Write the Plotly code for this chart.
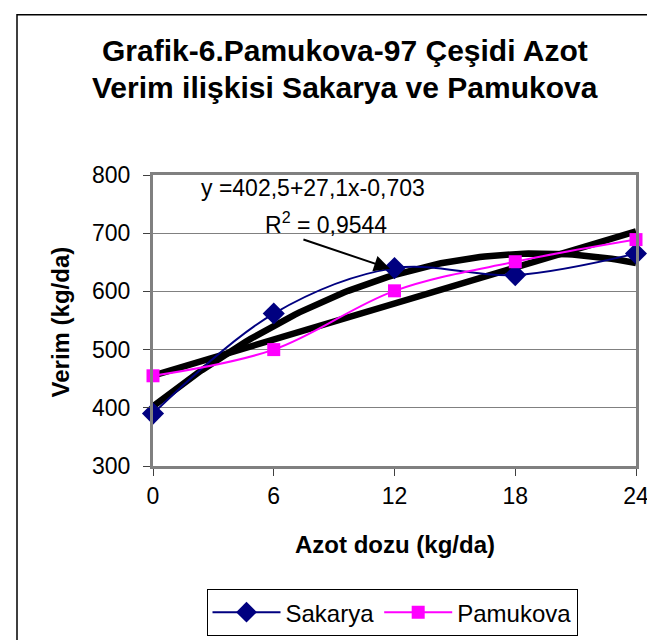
import numpy as np
import plotly.graph_objects as go

# ── Data ─────────────────────────────────────────────────────────────────────
azot_dozu = [0, 6, 12, 18, 24]
sakarya = [390, 562, 640, 628, 665]
pamukova = [455, 500, 601, 651, 689]

W, H = 655, 640
L, R, T, B = 145, 27, 167, 175
PW, PH = W - L - R, H - T - B
FONT = "Liberation Sans, Arial, sans-serif"


def px_x(px):
    return (px - L) / PW


def px_y(py):
    return (H - B - py) / PH


# trend lines (Excel style): 2nd order poly for Sakarya, linear for Pamukova
xs = np.linspace(azot_dozu[0], azot_dozu[-1], 100)
poly_sak = np.polyval(np.polyfit(azot_dozu, sakarya, 2), xs)
lin_pam = np.polyval(np.polyfit(azot_dozu, pamukova, 1), xs)

fig = go.Figure()

for trend in (lin_pam, poly_sak):
    fig.add_trace(go.Scatter(
        x=xs, y=trend, mode="lines", showlegend=False, hoverinfo="skip",
        line=dict(color="black", width=6.5), cliponaxis=False,
    ))

fig.add_trace(go.Scatter(
    x=azot_dozu, y=sakarya, name="Sakarya", mode="lines+markers",
    line=dict(color="#000080", width=2, shape="spline", smoothing=1),
    marker=dict(symbol="diamond", size=17, color="#000080"),
    cliponaxis=False,
))
fig.add_trace(go.Scatter(
    x=azot_dozu, y=pamukova, name="Pamukova", mode="lines+markers",
    line=dict(color="#FF00FF", width=2, shape="spline", smoothing=1),
    marker=dict(symbol="square", size=13, color="#FF00FF"),
    cliponaxis=False,
))

# ── Trend label + arrow ──────────────────────────────────────────────────────
fig.add_annotation(
    x=11.78, y=639, ax=7.4, ay=690, xref="x", yref="y", axref="x", ayref="y",
    text="", showarrow=True, arrowhead=2, arrowsize=1.6, arrowwidth=2,
    arrowcolor="black", standoff=0,
)
fig.add_annotation(
    x=2.3, y=778, xref="x", yref="y", xanchor="left", yanchor="middle",
    text="y =402,5+27,1x-0,703", showarrow=False,
    font=dict(family=FONT, size=23, color="black"),
)
fig.add_annotation(
    x=8.6, y=718, xref="x", yref="y", xanchor="center", yanchor="middle",
    text="R<sup>2</sup> = 0,9544", showarrow=False,
    font=dict(family=FONT, size=23, color="black"),
)

# ── Title (two lines) ────────────────────────────────────────────────────────
fig.add_annotation(
    x=px_x(337), y=px_y(40), xref="paper", yref="paper",
    xanchor="center", yanchor="middle", showarrow=False,
    text="<b>Grafik-6.Pamukova-97 Çeşidi Azot</b>",
    font=dict(family=FONT, size=30, color="black"),
)
fig.add_annotation(
    x=px_x(337), y=px_y(77), xref="paper", yref="paper",
    xanchor="center", yanchor="middle", showarrow=False,
    text="<b>Verim ilişkisi Sakarya ve Pamukova</b>",
    font=dict(family=FONT, size=30, color="black"),
)

# ── Axis titles ──────────────────────────────────────────────────────────────
fig.add_annotation(
    x=0.5, y=px_y(545), xref="paper", yref="paper",
    xanchor="center", yanchor="middle", showarrow=False,
    text="<b>Azot dozu (kg/da)</b>", font=dict(family=FONT, size=24, color="black"),
)
fig.add_annotation(
    x=px_x(52), y=px_y(318), xref="paper", yref="paper",
    xanchor="center", yanchor="middle", showarrow=False, textangle=-90,
    text="<b>Verim (kg/da)</b>", font=dict(family=FONT, size=24, color="black"),
)

# chart frame (only left + top edges fall inside the picture)
fig.add_shape(
    type="rect", xref="paper", yref="paper",
    x0=px_x(9), x1=px_x(720), y0=px_y(700), y1=px_y(3),
    line=dict(color="black", width=1.5),
)

fig.update_layout(
    width=W, height=H,
    margin=dict(l=L, r=R, t=T, b=B),
    paper_bgcolor="white", plot_bgcolor="white",
    font=dict(family=FONT, size=23, color="black"),
    showlegend=True,
    legend=dict(
        orientation="h", x=px_x(384), y=px_y(591),
        xanchor="center", yanchor="top",
        bordercolor="black", borderwidth=1, bgcolor="white",
        font=dict(family=FONT, size=24), itemwidth=68,
    ),
)
fig.update_xaxes(
    range=[0, 24], tickvals=azot_dozu, ticks="outside", ticklen=7, tickcolor="#404040",
    showgrid=False, zeroline=False,
    showline=True, linecolor="#808080", linewidth=3, mirror=True,
    tickfont=dict(size=23),
)
fig.update_yaxes(
    range=[300, 800], dtick=100, ticks="outside", ticklen=7, tickcolor="#404040",
    showgrid=True, gridcolor="#808080", gridwidth=1, zeroline=False,
    showline=True, linecolor="#808080", linewidth=3, mirror=True,
    tickfont=dict(size=23), ticklabelstandoff=8,
)

fig.write_html("out.html")
